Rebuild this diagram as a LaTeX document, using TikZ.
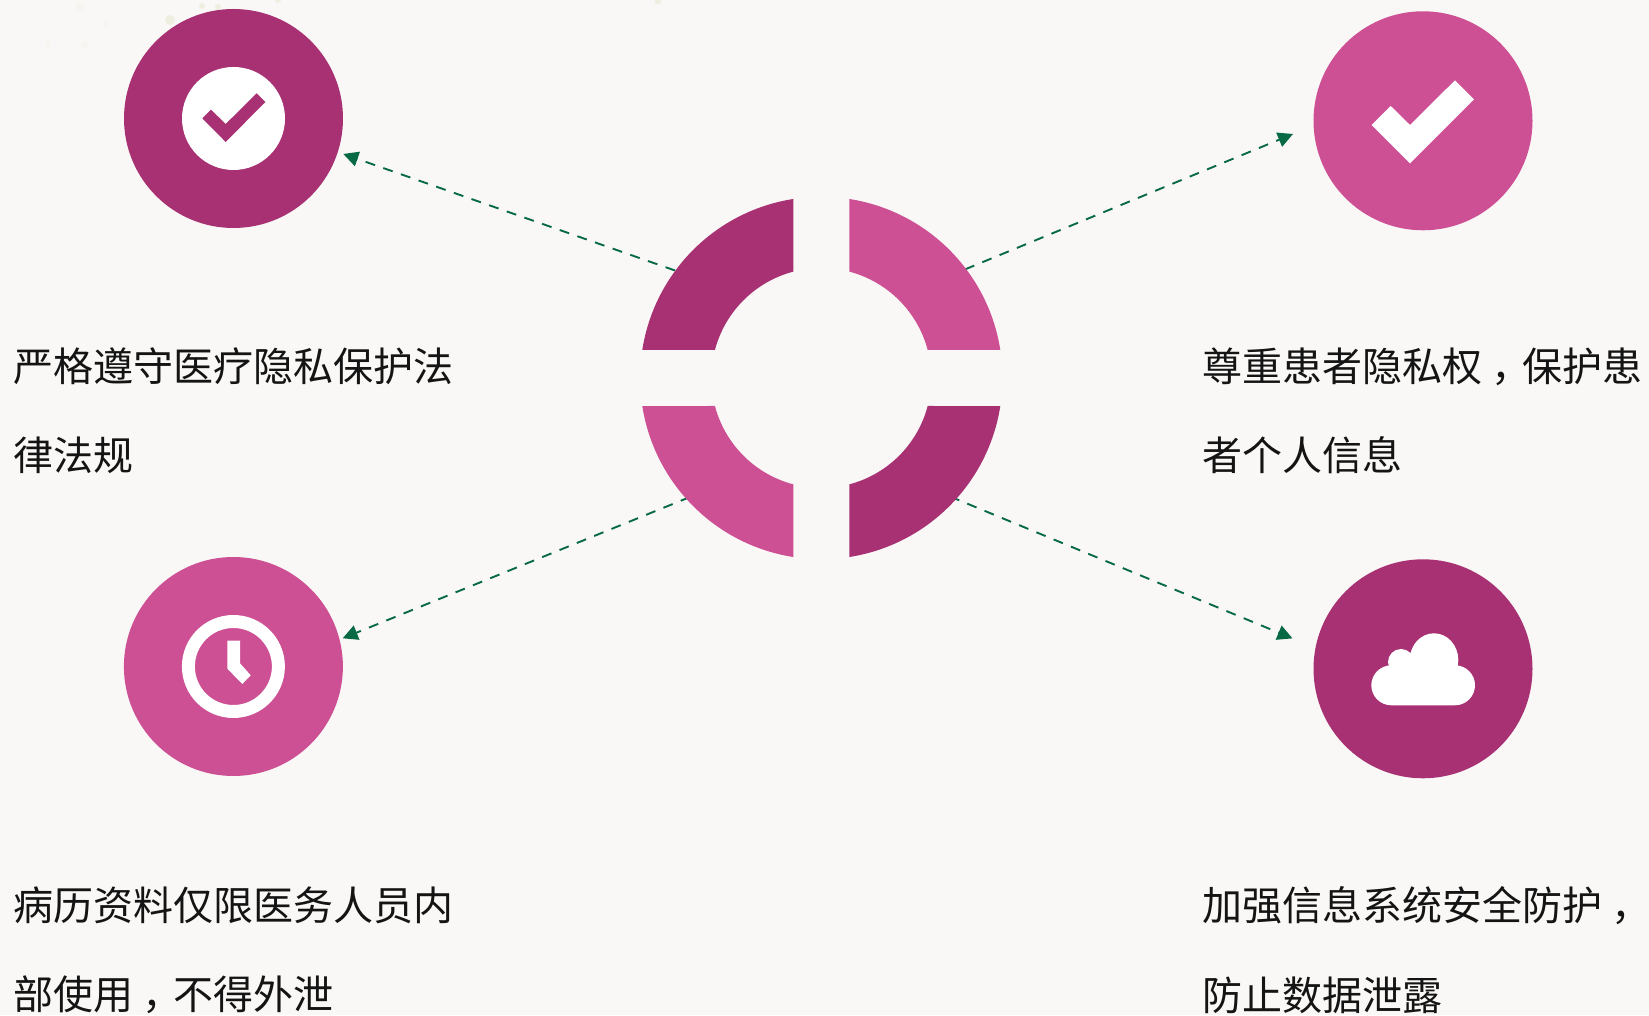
\documentclass[tikz,border=0pt]{standalone}
\usepackage{fontspec}
\setmainfont{Noto Sans CJK SC}
\usetikzlibrary{arrows.meta}
\definecolor{bgc}{HTML}{FAF8F6}
\definecolor{darkm}{HTML}{A73172}
\definecolor{pinkm}{HTML}{CD5095}
\definecolor{linkg}{HTML}{086A45}
\definecolor{speck}{HTML}{EEEFE0}
\newcommand{\cma}{\hspace{9pt}，\hspace{-9pt}}
\tikzset{
  bigdot/.style={circle,draw=none,inner sep=0pt,minimum size=219pt},
  whitedot/.style={circle,fill=white,draw=none,inner sep=0pt,minimum size=103pt},
  link/.style={draw=linkg,line width=1.9pt,dash pattern=on 10pt off 8.7pt,-{Triangle[length=15pt,width=15pt]}},
  txt/.style={anchor=north west,inner sep=0pt,align=left,text=black!92,font=\fontsize{40pt}{89.5pt}\selectfont},
}
\begin{document}
\begin{tikzpicture}[x=1pt,y=1pt]
\useasboundingbox (0,0) rectangle (1649,1015);
\fill[bgc] (0,0) rectangle (1649,1015);
% faint speckles along the top edge
\fill[speck] (170,995) circle (5) (202,1009) circle (3) (218,1008) circle (3) (278,1015) circle (3) (658,1014) circle (3.5);
\fill[speck!30!bgc] (80,1008) circle (5) (106,991) circle (3) (48,972) circle (3) (85,970) circle (3);
% connector ends
\coordinate (ring) at (821.3,637);
\coordinate (sTL) at (675,744.5);
\coordinate (eTL) at (343.3,861);
\coordinate (sTR) at (965,745.6);
\coordinate (eTR) at (1293,881);
\coordinate (sBL) at (690,518);
\coordinate (eBL) at (342.7,376.7);
\coordinate (sBR) at (950,518.5);
\coordinate (eBR) at (1292.5,376.6);
\draw[link] (sTL) -- (eTL);
\draw[link] (sTR) -- (eTR);
\draw[link] (sBL) -- (eBL);
\draw[link] (sBR) -- (eBR);
% central ring
\foreach \rot/\col in {0/darkm,90/pinkm,180/darkm,270/pinkm}{
  \fill[\col,shift={(ring)},rotate=\rot]
    (98.9:181.2pt) arc[start angle=98.9,end angle=171.1,radius=181.2pt]
    -- (165.25:110pt) arc[start angle=165.25,end angle=104.75,radius=110pt] -- cycle;
}
% icon discs
\node[bigdot,fill=darkm] (tl) at (233.5,896.5) {};
\node[bigdot,fill=pinkm] (tr) at (1423,894.2) {};
\node[bigdot,fill=pinkm] (bl) at (233.4,348.5) {};
\node[bigdot,fill=darkm] (br) at (1423,346.2) {};
% top-left icon
\node[whitedot] (tlw) at (tl) {};
\fill[darkm,shift={(tl)}] (-31.2,0.2) -- (-22.5,8.8) -- (-7.8,-5.5) -- (23.2,25.2) -- (31.8,16.5) -- (-7.8,-23.5) -- cycle;
% top-right icon
\fill[white,shift={(tr)}] (-51.3,-4.2) -- (-32.3,14.8) -- (-13,-4.2) -- (32,40.5) -- (51,21.5) -- (-13,-42.5) -- cycle;
% clock icon
\fill[white,even odd rule,shift={(bl)}] (0,0) circle (51.5) (0,0) circle (38.5);
\fill[white,shift={(bl)}] (-6.1,25.8) -- (6.6,25.8) -- (6.6,3.2) -- (17.3,-8.8) -- (8.9,-17.5) -- (-6.1,-2.2) -- cycle;
% cloud icon
\fill[white,shift={(br)},rounded corners=20pt] (-51.7,-36.5) rectangle (52,3.5);
\fill[white,shift={(br)}] (11,8.8) ellipse [x radius=24.3,y radius=26.7] (-22,6.8) circle (13);
% labels
\node[txt] (t1) at (13,667.5) {严格遵守医疗隐私保护法\\律法规};
\node[txt] (t2) at (1202.7,667.5) {尊重患者隐私权\cma 保护患\\者个人信息};
\node[txt] (t3) at (13,128.5) {病历资料仅限医务人员内\\部使用\cma 不得外泄};
\node[txt] (t4) at (1202.7,128.5) {加强信息系统安全防护\cma\\防止数据泄露};
\end{tikzpicture}
\end{document}
